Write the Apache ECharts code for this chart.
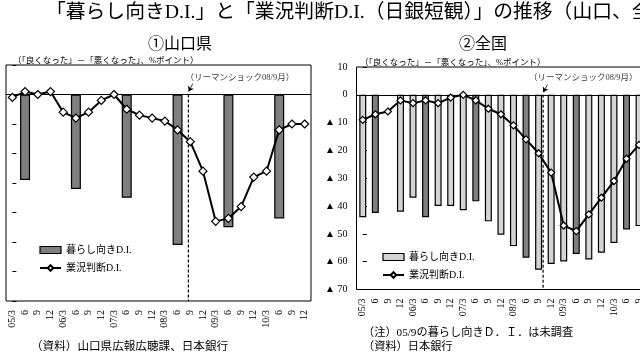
<!DOCTYPE html>
<html><head><meta charset="utf-8">
<script src="https://cdn.jsdelivr.net/npm/echarts@6/dist/echarts.min.js"></script>
<style>html,body{margin:0;padding:0;background:#fff}#c{width:640px;height:360px}</style>
</head><body><div id="c"></div>
<script>
// ---- data ----
const categories = ['05/3','6','9','12','06/3','6','9','12','07/3','6','9','12','08/3','6','9','12','09/3','6','9','12','10/3','6','9','12'];
const yamaKurashi = [null,-29,null,null, null,-32,null,null, null,-35,null,null, null,-51,null,null, null,-45,null,null, null,-42,null,null];
const yamaTankan  = [-1,1,0,1,-6,-8,-6,-2,0,-5,-7,-8,-9,-12,-16,-26,-43,-42,-38,-28,-26,-12,-10,-10];
const zenKurashi  = [-44,-42.5,null,-42,-37,-44,-40,-40,-41.5,-38.3,-45.5,-50.3,-54.4,-58.6,-62.9,-60.8,-59.9,-57.2,-59.2,-56.8,-53.3,-48.4,-47.2,-47];
const zenTankan   = [-9,-7,-6,-2,-3,-2,-3,-1,0,-2,-5,-7,-11,-16,-21,-28,-47,-49,-43,-37,-31,-23,-18,-13];
const yMin = -70, yMax = 10, yStep = 10;
// Lehman shock marker position (category index units)
const lehmanYama = 13.85, lehmanZen = 14.36;

const SERIF = "'Liberation Serif','DejaVu Serif','Noto Sans CJK JP',serif";
const JP = "'Liberation Serif','Noto Sans CJK JP',sans-serif";
const dark = '#7f7f7f', light = '#d4d4d4';
const names = {yk:'暮らし向きD.I.', yt:'業況判断D.I.', zk:'暮らし向きD.I.', zt:'業況判断D.I.'};

function yAxisCfg(g, showLabels){
  return {type:'value', gridIndex:g, min:yMin, max:yMax, interval:yStep,
    axisLine:{show:false}, splitLine:{show:false},
    axisTick:{show:true, inside:true, length:4, lineStyle:{color:'#000'}},
    axisLabel:{show:showLabels, color:'#000', fontSize:10, fontFamily:SERIF, margin:9,
      formatter: v => v < 0 ? '▲ ' + (-v) : String(v)}};
}
function catAxis(g){
  return {type:'category', gridIndex:g, data:categories, boundaryGap:true, position:'bottom',
    axisLine:{show:false}, axisTick:{show:false},
    axisLabel:{rotate:90, interval:0, color:'#000', fontSize:10, fontFamily:SERIF, margin:9}};
}
function valXAxis(g){
  return {type:'value', gridIndex:g, min:-0.5, max:categories.length-0.5, show:false, position:'top'};
}
function panel(g, barName, barData, barColor, barWidth, lineName, lineData, symSize, lehman, annot){
  const xa = g*2, xv = g*2+1;
  return [
    {name:barName, type:'bar', xAxisIndex:xa, yAxisIndex:g, data:barData, barWidth:barWidth,
      itemStyle:{color:barColor, borderColor:'#000', borderWidth:1.2},
      markLine:{silent:true, symbol:'none', label:{show:false}, animation:false,
        lineStyle:{color:'#000', type:'solid', width:1}, data:[{yAxis:0}]}},
    {name:'lehman'+g, type:'line', xAxisIndex:xv, yAxisIndex:g, data:[[lehman,0],[lehman,yMin]],
      symbol:'none', lineStyle:{color:'#000', width:1.2, type:[3,2]}, z:3,
      markLine:{silent:true, symbol:['none','arrow'], symbolSize:5, label:{show:false}, animation:false,
        lineStyle:{color:'#000', width:0.8, type:'solid'},
        data:[[{coord:annot.from},{coord:annot.to}]]}},
    {name:'annot'+g, type:'scatter', xAxisIndex:xv, yAxisIndex:g, data:[annot.text], symbolSize:1,
      itemStyle:{color:'rgba(0,0,0,0)'},
      label:{show:true, position:'inside', formatter:'（リーマンショック08/9月）', color:'#000', fontSize:8.5, fontFamily:JP}},
    {name:lineName, type:'line', xAxisIndex:xa, yAxisIndex:g, data:lineData, z:5,
      symbol:'diamond', symbolSize:symSize, showAllSymbol:true,
      lineStyle:{color:'#000', width:2}, itemStyle:{color:'#fff', borderColor:'#000', borderWidth:1.2}}
  ];
}
function legendCfg(left, top, barKey, barColor, lineKey){
  return {orient:'vertical', left:left, top:top, itemWidth:21, itemHeight:7, itemGap:8, padding:0,
    selectedMode:false, formatter: n => names[n],
    textStyle:{color:'#000', fontSize:10, fontFamily:JP},
    data:[{name:barKey, icon:'rect', itemStyle:{color:barColor, borderColor:'#000', borderWidth:1.2}},
          {name:lineKey}]};
}
function txt(x, y, text, size, align){
  return {type:'text', x:x, y:y, silent:true,
    style:{text:text, fill:'#000', fontSize:size, fontFamily:JP, align:align||'left', verticalAlign:'middle'}};
}

const chart = echarts.init(document.getElementById('c'));
chart.setOption({
  animation:false,
  backgroundColor:'#fff',
  grid:[
    {left:6, top:65, width:305, height:236, show:true, borderColor:'#000', borderWidth:1, containLabel:false, outerBoundsMode:'none'},
    {left:356.5, top:67, width:301.4, height:222.5, show:true, borderColor:'#000', borderWidth:1, containLabel:false, outerBoundsMode:'none'}
  ],
  xAxis:[catAxis(0), valXAxis(0), catAxis(1), valXAxis(1)],
  yAxis:[yAxisCfg(0,false), yAxisCfg(1,true)],
  legend:[legendCfg(39,245,'yk',dark,'yt'), legendCfg(382,252,'zk',light,'zt')],
  series:[
    ...panel(0,'yk',yamaKurashi,dark,10,'yt',yamaTankan,8,lehmanYama,
      {from:[14.2,3.7], to:[13.87,1.0], text:[17.9,5.8]}),
    ...panel(1,'zk',zenKurashi,
      p => categories[p.dataIndex] === '6' ? dark : light, 7,'zt',zenTankan,7,lehmanZen,
      {from:[14.7,3.6], to:[14.37,0.9], text:[17.56,6.0]})
  ],
  graphic:[
    txt(46,13,'「暮らし向きD.I.」と「業況判断D.I.（日銀短観）」の推移（山口、全国）',19.8),
    txt(180,45,'①山口県',16,'center'),
    txt(483,45,'②全国',16,'center'),
    txt(13,61,'（「良くなった」－「悪くなった」、%ポイント）',8.5),
    txt(360,62.5,'（「良くなった」－「悪くなった」、%ポイント）',8.5),
    txt(31,347,'（資料）山口県広報広聴課、日本銀行',11.6),
    txt(363,333,'（注）05/9の暮らし向きＤ．Ｉ．は未調査',11.2),
    txt(363,347,'（資料）日本銀行',11.2)
  ]
});
</script></body></html>
